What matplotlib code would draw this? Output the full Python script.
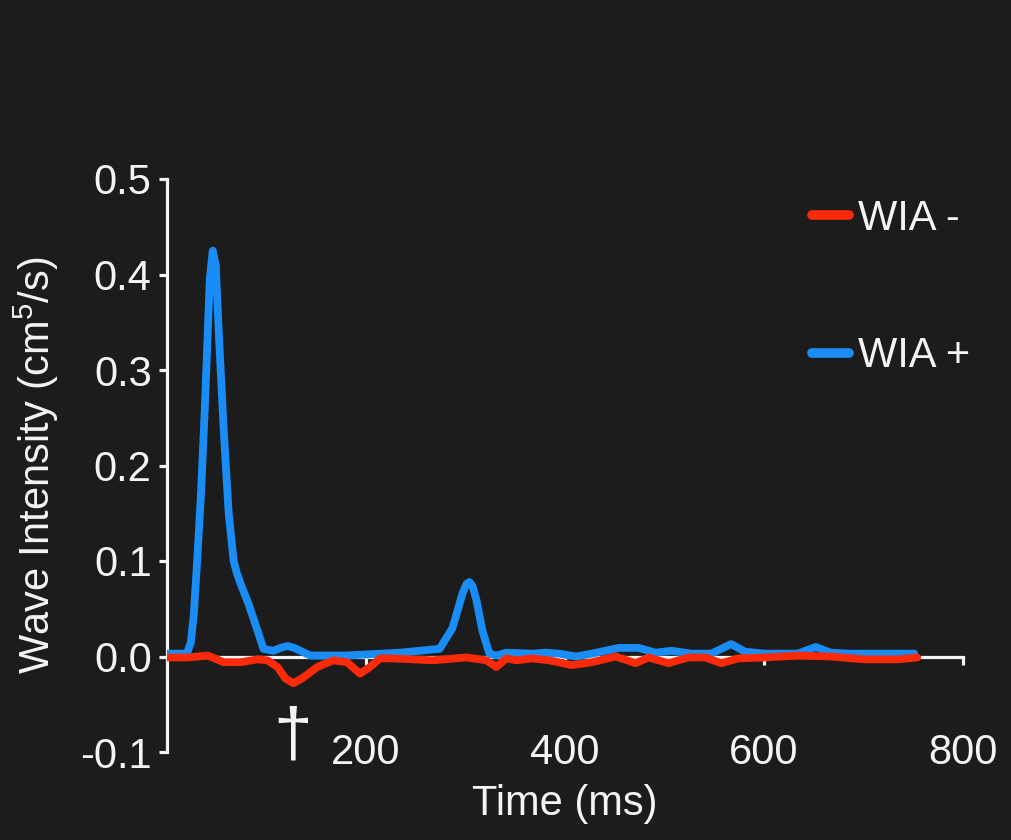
import matplotlib
matplotlib.use("Agg")
import matplotlib.pyplot as plt

# ---- data ----
t_plus = [0, 20, 24, 27, 30, 34, 38, 41, 43, 46, 49, 52, 57, 62, 67, 70, 74, 82, 91, 97,
          107, 114, 121, 128, 134, 144, 180, 234, 274, 287, 297, 301, 304, 307, 311, 317, 324,
          331, 341, 367, 381, 394, 411, 427, 454, 474, 491, 507, 527, 547, 567, 581,
          601, 634, 652, 667, 684, 751]
wia_plus = [0.003, 0.003, 0.015, 0.045, 0.095, 0.167, 0.26, 0.34, 0.395, 0.425, 0.41,
            0.34, 0.237, 0.15, 0.100, 0.088, 0.076, 0.055, 0.027, 0.008,
            0.006, 0.009, 0.011, 0.009, 0.006, 0.001, 0.001, 0.004, 0.008, 0.03, 0.066,
            0.076, 0.078, 0.074, 0.059, 0.027, 0.003, 0.001, 0.004, 0.003, 0.004, 0.003, 0.0, 0.003,
            0.009, 0.009, 0.004, 0.006, 0.003, 0.003, 0.013, 0.005,
            0.003, 0.003, 0.010, 0.004, 0.003, 0.003]

t_minus = [0, 4, 21, 41, 57, 74, 91, 101, 111, 119, 127, 137, 151, 167, 181, 194, 204,
           214, 227, 267, 301, 321, 331, 341, 351, 367, 384, 407, 427, 451, 471, 484,
           504, 524, 541, 557, 574, 601, 634, 667, 701, 734, 754]
wia_minus = [-0.001, -0.001, -0.001, 0.001, -0.006, -0.006, -0.003, -0.004, -0.011,
             -0.023, -0.028, -0.022, -0.011, -0.004, -0.006, -0.018, -0.011,
             -0.002, -0.002, -0.004, -0.001, -0.004, -0.011, -0.002, -0.004, -0.002,
             -0.004, -0.009, -0.006, 0.0, -0.007, -0.001,
             -0.007, -0.001, -0.001, -0.007, -0.002, -0.001, 0.001, 0.0, -0.003, -0.003,
             -0.001]

x_ticks = [200, 400, 600, 800]
y_ticks = [-0.1, 0.0, 0.1, 0.2, 0.3, 0.4, 0.5]
labels = ["WIA -", "WIA +"]

BG = "#1c1c1c"
RED = "#fa2a0a"
BLUE = "#1a8cf5"
WHITE = "#f4f4f4"

plt.rcParams["font.family"] = ["Liberation Sans", "DejaVu Sans"]
plt.rcParams["mathtext.default"] = "regular"

fig = plt.figure(figsize=(10.12, 8.4), dpi=100, facecolor=BG)
ax = fig.add_axes([167 / 1012, 1 - 752 / 840, (963 - 167) / 1012, (752 - 179) / 840])
ax.set_facecolor(BG)

l_plus, = ax.plot(t_plus, wia_plus, color=BLUE, lw=5.6, solid_joinstyle="round",
                  solid_capstyle="round", zorder=3)
l_minus, = ax.plot(t_minus, wia_minus, color=RED, lw=5.6, solid_joinstyle="round",
                   solid_capstyle="round", zorder=4)

ax.set_xlim(0, 800)
ax.set_ylim(-0.1, 0.5)

for s in ["top", "right"]:
    ax.spines[s].set_visible(False)
ax.spines["bottom"].set_position(("data", 0))
ax.spines["bottom"].set_bounds(0, 800)
for s in ["left", "bottom"]:
    ax.spines[s].set_color(WHITE)
    ax.spines[s].set_linewidth(2.3)
ax.spines["bottom"].set_zorder(2)

ax.set_xticks(x_ticks)
ax.set_yticks(y_ticks)
ax.set_yticklabels([f"{v:.1f}" for v in y_ticks])
ax.tick_params(axis="both", colors=WHITE, labelcolor=WHITE, labelsize=30,
               width=2.3, length=6, direction="out")
ax.tick_params(axis="x", pad=49)
ax.tick_params(axis="y", pad=5)

ax.set_xlabel("Time (ms)", fontsize=30, color=WHITE, labelpad=8)
ax.set_ylabel("Wave Intensity (cm$^5$/s)", fontsize=30, color=WHITE, labelpad=14)

ax.text(126, -0.0845, "\u2020", fontsize=50, color=WHITE, ha="center", va="center")

leg = ax.legend([l_minus, l_plus], labels, loc="upper left",
                bbox_to_anchor=(812 / 1012, 1 - 199 / 840), bbox_transform=fig.transFigure,
                frameon=False, fontsize=30, handlelength=0.9, handletextpad=0.2,
                labelspacing=2.33, borderaxespad=0, borderpad=0)
for txt in leg.get_texts():
    txt.set_color(WHITE)
for h in leg.get_lines():
    h.set_linewidth(7)
    h.set_solid_capstyle("round")

fig.savefig("out.png", dpi=100, facecolor=BG)
